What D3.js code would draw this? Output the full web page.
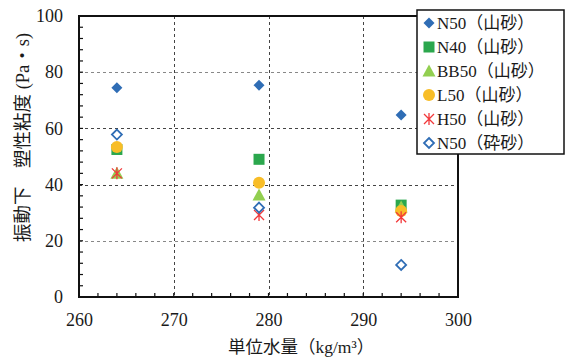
<!DOCTYPE html>
<html><head><meta charset="utf-8">
<script src="https://cdn.jsdelivr.net/npm/d3@7"></script>
<style>
body{margin:0;background:#fff;}
svg text{font-family:"Liberation Serif","Noto Sans CJK JP",serif;fill:#1a1a1a;}
</style></head>
<body><svg id="c" width="565" height="359"></svg>
<script>
const xValues = [264, 279, 294];
const seriesNames = ["N50（山砂）","N40（山砂）","BB50（山砂）","L50（山砂）","H50（山砂）","N50（砕砂）"];
const seriesValues = [
  [74.5, 75.4, 64.8],
  [52.5, 49.0, 32.7],
  [44.0, 36.3, 32.0],
  [53.4, 40.7, 30.6],
  [44.0, 29.2, 28.4],
  [57.8, 31.8, 11.4]
];
const seriesMarkers = ["diamond","square","triangle","circle","asterisk","diamondOpen"];
const seriesColors = ["#2F6DB5","#2BA74D","#92CF50","#F8BD27","#F2393B","#2F6DB5"];
const xTicks = [260,270,280,290,300];
const yTicks = [0,20,40,60,80,100];
const xTitle = "単位水量（kg/m³）";
const yTitle = "振動下　塑性粘度 (Pa・s)";

const svg = d3.select("#c");
const L=79, R=458, T=16, B=297;
const x = d3.scaleLinear().domain([260,300]).range([L,R]);
const y = d3.scaleLinear().domain([0,100]).range([B,T]);

// grid
const g = svg.append("g");
g.selectAll(".vg").data(xTicks.slice(1,-1)).enter().append("line")
 .attr("x1",d=>Math.round(x(d))+0.5).attr("x2",d=>Math.round(x(d))+0.5).attr("y1",T).attr("y2",B)
 .attr("stroke","#444").attr("stroke-width",1).attr("stroke-dasharray","3,3");
g.selectAll(".hg").data(yTicks.slice(1,-1)).enter().append("line")
 .attr("y1",d=>Math.round(y(d))+0.5).attr("y2",d=>Math.round(y(d))+0.5).attr("x1",L).attr("x2",R)
 .attr("stroke",(d)=> (d===20||d===80)?"#888":"#444").attr("stroke-width",1).attr("stroke-dasharray","3,3");

// minor ticks
const xMinor = d3.range(262,300,2);
g.selectAll(".xm").data(xMinor).enter().append("line")
 .attr("x1",d=>x(d)).attr("x2",d=>x(d)).attr("y1",B).attr("y2",B-4).attr("stroke","#111").attr("stroke-width",1.2);
const yMinor = d3.range(4,100,4);
g.selectAll(".ym").data(yMinor).enter().append("line")
 .attr("y1",d=>y(d)).attr("y2",d=>y(d)).attr("x1",L).attr("x2",L+4).attr("stroke","#111").attr("stroke-width",1.2);

// frame
svg.append("rect").attr("x",L).attr("y",T).attr("width",R-L).attr("height",B-T)
 .attr("fill","none").attr("stroke","#111").attr("stroke-width",2);

// axes labels via d3 axes
const xAxis = svg.append("g").attr("transform",`translate(0,${B})`)
 .call(d3.axisBottom(x).tickValues(xTicks).tickSize(0).tickPadding(16));
xAxis.select(".domain").remove();
xAxis.selectAll("text").attr("font-size",18).attr("fill","#1a1a1a").style("font-family","Liberation Serif");
const yAxis = svg.append("g").attr("transform",`translate(${L},0)`)
 .call(d3.axisLeft(y).tickValues(yTicks).tickSize(0).tickPadding(16));
yAxis.select(".domain").remove();
yAxis.selectAll("text").attr("font-size",18).attr("fill","#1a1a1a").style("font-family","Liberation Serif");

// titles
svg.append("text").attr("x",228).attr("y",353).attr("font-size",17.5).text(xTitle);
svg.append("text").attr("transform","translate(29,242) rotate(-90)").attr("font-size",18.5).text(yTitle);

function drawMarker(sel, type, color){
  if(type==="diamond"){
    sel.append("path").attr("d","M0,-5.5L5.5,0L0,5.5L-5.5,0Z").attr("fill",color);
  } else if(type==="diamondOpen"){
    sel.append("path").attr("d","M0,-5L5,0L0,5L-5,0Z").attr("fill","#fff").attr("stroke",color).attr("stroke-width",1.8);
  } else if(type==="square"){
    sel.append("rect").attr("x",-5.5).attr("y",-5.5).attr("width",11).attr("height",11).attr("fill",color);
  } else if(type==="triangle"){
    sel.append("path").attr("d","M0,-6.5L6.5,5.5L-6.5,5.5Z").attr("fill",color);
  } else if(type==="circle"){
    sel.append("circle").attr("r",6).attr("fill",color);
  } else if(type==="asterisk"){
    sel.append("path").attr("d","M-5,-5L5,5M5,-5L-5,5M0,-6L0,6").attr("stroke",color).attr("stroke-width",1.3).attr("fill","none");
  }
}

seriesValues.forEach((vals,i)=>{
  vals.forEach((v,j)=>{
    const m = svg.append("g").attr("transform",`translate(${x(xValues[j])},${y(v)})`);
    drawMarker(m, seriesMarkers[i], seriesColors[i]);
  });
});

// legend
const lg = svg.append("g");
lg.append("rect").attr("x",417).attr("y",10).attr("width",147).attr("height",144)
 .attr("fill","#fff").attr("stroke","#111").attr("stroke-width",1.5);
seriesNames.forEach((n,i)=>{
  const yy = 23 + i*24;
  const m = lg.append("g").attr("transform",`translate(429,${yy})`);
  drawMarker(m, seriesMarkers[i], seriesColors[i]);
  lg.append("text").attr("x",437).attr("y",yy+6).attr("font-size",17).text(n);
});
</script></body></html>
